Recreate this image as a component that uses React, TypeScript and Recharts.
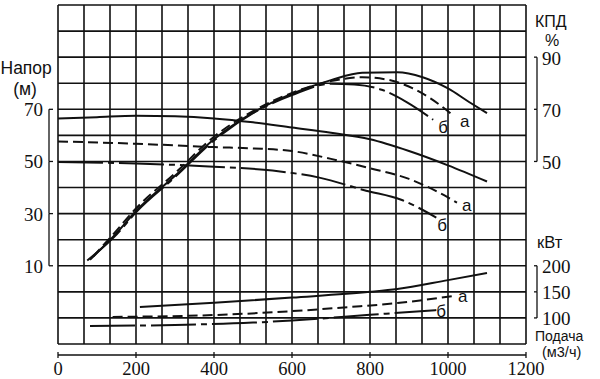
import React from "react";
import { LineChart, Line, XAxis, YAxis, CartesianGrid } from "recharts";

// подача, м3/ч
const qTicks = [0, 200, 400, 600, 800, 1000, 1200];
const gridQ = Array.from({ length: 19 }, (_, i) => (i * 200) / 3);
const headTicks = Array.from({ length: 14 }, (_, i) => -20 + i * 10);
const headLabels = [10, 30, 50, 70];
const effLabels = [90, 70, 50];
const powerLabels = [200, 150, 100];

// напор, м
const headQ = [0, 100, 200, 300, 400, 500, 600, 700, 800, 900, 1000, 1100];
const headMain = [66.5, 67, 67.5, 67.3, 66.5, 65, 63, 61, 58.5, 54, 48.5, 42.3];
const headAQ = [0, 200, 400, 500, 600, 700, 800, 900, 1000, 1023];
const headA = [57.7, 56.8, 55.5, 55, 54, 51, 47.4, 43.3, 36.2, 34.2];
const headBQ = [0, 200, 400, 550, 670, 790, 880, 970];
const headB = [49.8, 49.2, 48, 46.5, 43.8, 38.8, 35.3, 28.5];

// КПД, %
const effMainQ = [82, 150, 200, 300, 400, 500, 600, 700, 780, 870, 935, 1000, 1055, 1100];
const effMain = [12.3, 22.5, 31, 44.5, 58.5, 68.7, 76, 81.2, 84, 84.2, 82.3, 78, 72.7, 68.5];
const effAQ = [90, 150, 200, 300, 400, 500, 600, 700, 780, 850, 910, 955, 1013];
const effA = [13.5, 23.5, 32, 45.5, 59.5, 69.3, 76.3, 80.8, 82.3, 81.2, 78, 74.2, 67.7];
const effBQ = [75, 150, 200, 300, 400, 500, 600, 700, 760, 830, 895, 962];
const effB = [12, 22, 30.5, 44, 58, 68.5, 75.5, 79.8, 79.5, 77.5, 72.7, 66];

// мощность, кВт
const powMainQ = [210, 400, 600, 800, 870, 1000, 1100];
const powMain = [121, 129, 139, 150, 155.5, 172.5, 186];
const powAQ = [140, 400, 600, 750, 870, 1013];
const powA = [102, 105.5, 113, 121, 128.5, 142];
const powBQ = [82, 300, 500, 600, 800, 970];
const powB = [84.5, 86.5, 91, 95, 106, 115];

// кВт -> шкала напора (200 кВт = 10 м, 150 = 0, 100 = -10)
const kw = (p: number) => (p - 150) / 5;
const toHead = (p: number) => p * 5 + 150;

const mk = (q: number[], v: number[], f = (x: number) => x) =>
  q.map((x, i) => ({ q: x, v: f(v[i]) }));

const W = 600;
const H = 379;
const TOP = 5;
const LEFT_W = 58;
const RIGHT_W = 74;
const GRID_AX_H = 11;
const Q_AX_H = 24;
const Y_MIN = -20;
const Y_MAX = 110;
const PX = (H - TOP - GRID_AX_H - Q_AX_H) / (Y_MAX - Y_MIN);

const INK = "#111";
const SERIF = "'Liberation Serif', 'Times New Roman', serif";
const SANS = "'Liberation Sans', Arial, sans-serif";

const HeadTick = (props: any) => {
  const { x, y, payload } = props;
  const v = payload.value;
  if (!headLabels.includes(v)) return <g />;
  const ax = x - 9;
  return (
    <g>
      <line x1={ax} x2={ax + 4} y1={y} y2={y} stroke={INK} strokeWidth={1.3} />
      {v > 10 && <line x1={ax} x2={ax} y1={y} y2={y + 20 * PX} stroke={INK} strokeWidth={1.3} />}
      <text x={x - 15} y={y + 7} textAnchor="end" fontFamily={SERIF} fontSize={19} fill={INK}>
        {v}
      </text>
    </g>
  );
};

const RightTick = (props: any) => {
  const { x, y, payload } = props;
  const v = payload.value;
  const isEff = effLabels.includes(v);
  const label = isEff ? v : toHead(v);
  const ax = x + 11;
  const seg = isEff ? (v > 50 ? 20 : 0) : v > -10 ? 10 : 0;
  return (
    <g>
      <line x1={ax - 3} x2={ax} y1={y} y2={y} stroke={INK} strokeWidth={1.3} />
      {seg > 0 && <line x1={ax} x2={ax} y1={y} y2={y + seg * PX} stroke={INK} strokeWidth={1.3} />}
      <text x={ax + 5} y={y + 7.5} textAnchor="start" fontFamily={SERIF} fontSize={19} fill={INK}>
        {label}
      </text>
    </g>
  );
};

const QTick = (props: any) => {
  const { x, y, payload } = props;
  return (
    <g>
      <line x1={x} x2={x} y1={y - 3} y2={y + 3} stroke={INK} strokeWidth={1.3} />
      <text x={x} y={y + 20} textAnchor="middle" fontFamily={SERIF} fontSize={18.5} fill={INK}>
        {payload.value}
      </text>
    </g>
  );
};

const endLabel = (text: string, count: number, dx: number, dy: number) => (props: any) => {
  if (props.index !== count - 1) return <g />;
  return (
    <text x={props.x + dx} y={props.y + dy} fontFamily={SANS} fontSize={17} fill={INK}>
      {text}
    </text>
  );
};

const DASH = "10 5";
const DASHDOT = "45 5 6 5";

type Curve = {
  key: string;
  data: { q: number; v: number }[];
  dash?: string;
  label?: [string, number, number];
};

const curves: Curve[] = [
  { key: "hMain", data: mk(headQ, headMain) },
  { key: "hA", data: mk(headAQ, headA), dash: DASH, label: ["а", 5, 8] },
  { key: "hB", data: mk(headBQ, headB), dash: DASHDOT, label: ["б", 1, 13] },
  { key: "eMain", data: mk(effMainQ, effMain) },
  { key: "eA", data: mk(effAQ, effA), dash: DASH, label: ["а", 7, 12] },
  { key: "eB", data: mk(effBQ, effB), dash: DASHDOT, label: ["б", 5, 13] },
  { key: "pMain", data: mk(powMainQ, powMain, kw) },
  { key: "pA", data: mk(powAQ, powA, kw), dash: DASH, label: ["а", 5, 6] },
  { key: "pB", data: mk(powBQ, powB, kw), dash: DASHDOT, label: ["б", 0, 7] },
];

export default function App() {
  return (
    <div style={{ position: "absolute", left: 0, top: 0, width: W, height: H, background: "#fff" }}>
      <LineChart width={W} height={H} margin={{ top: TOP, right: 0, bottom: 0, left: 0 }}>
        <CartesianGrid xAxisId="g" yAxisId="h" stroke={INK} strokeWidth={1.6} />
        <XAxis
          xAxisId="g"
          dataKey="q"
          type="number"
          domain={[0, 1200]}
          ticks={gridQ}
          interval={0}
          allowDataOverflow
          height={GRID_AX_H}
          axisLine={false}
          tickLine={false}
          tick={() => <g />}
        />
        <XAxis
          xAxisId="q"
          dataKey="q"
          type="number"
          domain={[0, 1200]}
          ticks={qTicks}
          interval={0}
          allowDataOverflow
          height={Q_AX_H}
          tickSize={0}
          tickMargin={0}
          tickLine={false}
          axisLine={{ stroke: INK, strokeWidth: 1.4 }}
          tick={QTick}
        />
        <YAxis
          yAxisId="h"
          orientation="left"
          type="number"
          domain={[Y_MIN, Y_MAX]}
          ticks={headTicks}
          interval={0}
          allowDataOverflow
          width={LEFT_W}
          tickSize={0}
          tickMargin={0}
          axisLine={false}
          tickLine={false}
          tick={HeadTick}
        />
        <YAxis
          yAxisId="r"
          orientation="right"
          type="number"
          domain={[Y_MIN, Y_MAX]}
          ticks={[...effLabels, ...powerLabels.map(kw)]}
          interval={0}
          allowDataOverflow
          width={RIGHT_W}
          tickSize={0}
          tickMargin={0}
          axisLine={false}
          tickLine={false}
          tick={RightTick}
        />
        {curves.map((c) => (
          <Line
            key={c.key}
            xAxisId="q"
            yAxisId="h"
            data={c.data}
            dataKey="v"
            type="monotone"
            stroke={INK}
            strokeWidth={2}
            strokeDasharray={c.dash}
            dot={false}
            isAnimationActive={false}
            label={c.label ? endLabel(c.label[0], c.data.length, c.label[1], c.label[2]) : undefined}
          />
        ))}
      </LineChart>
      <svg
        width={W}
        height={H}
        style={{ position: "absolute", left: 0, top: 0, pointerEvents: "none" }}
        fontFamily={SANS}
        fill={INK}
      >
        <text x={0.5} y={74} fontSize={17.5}>Напор</text>
        <text x={25} y={95} fontSize={17.5} textAnchor="middle">(м)</text>
        <text x={535} y={27} fontSize={16}>КПД</text>
        <text x={545} y={46} fontSize={16}>%</text>
        <text x={537} y={248} fontSize={16.5}>кВт</text>
        <text x={535} y={341} fontSize={14}>Подача</text>
        <text x={542} y={357} fontSize={14.5}>(м3/ч)</text>
      </svg>
    </div>
  );
}
